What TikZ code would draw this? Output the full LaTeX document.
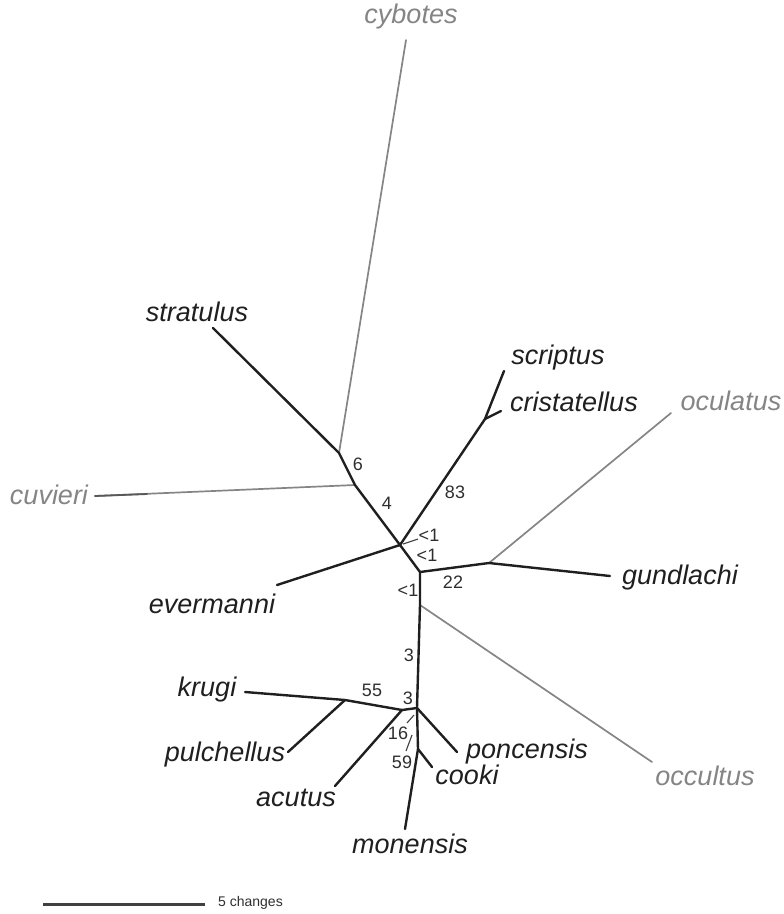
\documentclass[tikz,border=0pt]{standalone}
\usepackage{fontspec}
\setmainfont{Liberation Sans}
\begin{document}
\begin{tikzpicture}[x=1pt,y=-1pt,
 br/.style={draw=black!88, line width=2.4pt, line cap=round, line join=round},
 gbr/.style={draw=black!48, line width=1.7pt, line cap=round},
 taxon/.style={inner sep=0pt, font=\fontsize{27}{30}\selectfont\itshape, text=black!88},
 gtaxon/.style={taxon, text=black!48},
 num/.style={inner sep=0pt, font=\fontsize{18}{20}\selectfont, text=black!82},
 leader/.style={draw=black!75, line width=1.1pt},
 scalelab/.style={inner sep=0pt, font=\fontsize{14}{16}\selectfont, text=black!82}]
\useasboundingbox (0,0) rectangle (784,914);
% internal nodes
\coordinate (n1) at (339,453);
\coordinate (n2) at (355,485);
\coordinate (n3) at (400,545);
\coordinate (n4) at (420,572);
\coordinate (n5) at (420,605);
\coordinate (n6) at (417,708);
\coordinate (n7) at (402,710);
\coordinate (n8) at (418,749);
\coordinate (n9) at (345,700);
\coordinate (n10) at (485,419);
\coordinate (n11) at (489,563);
% tips
\coordinate (tstrat) at (213,328);
\coordinate (tcyb) at (406,40);
\coordinate (tcuv) at (95,496);
\coordinate (tcuvm) at (147,494);
\coordinate (tever) at (277,585);
\coordinate (tscr) at (504,371);
\coordinate (tcris) at (501,411);
\coordinate (tgund) at (610,576);
\coordinate (tocul) at (671,413);
\coordinate (tocc) at (652,762);
\coordinate (tkrug) at (245,692);
\coordinate (tpulc) at (288,752);
\coordinate (tacut) at (335,786);
\coordinate (tponc) at (457,752);
\coordinate (tcook) at (432,767);
\coordinate (tmon) at (405,829);
% gray branches
\draw[gbr] (n1) -- (tcyb);
\draw[gbr] (n2) -- (tcuv);
\draw[br, line width=1.8pt, draw=black!65] (tcuv) -- (tcuvm);
\draw[gbr] (n11) -- (tocul);
\draw[gbr] (n5) -- (tocc);
% black branches
\draw[br] (tstrat) -- (n1) -- (n2) -- (n3);
\draw[br] (n3) -- (tever);
\draw[br] (n3) -- (n10) -- (tscr);
\draw[br] (n10) -- (tcris);
\draw[br] (n3) -- (n4) -- (n11) -- (tgund);
\draw[br] (n4) -- (n5) -- (n6);
\draw[br] (n6) -- (n7) -- (n9) -- (tkrug);
\draw[br] (n9) -- (tpulc);
\draw[br] (n7) -- (tacut);
\draw[br] (n6) -- (tponc);
\draw[br] (n6) -- (n8) -- (tmon);
\draw[br] (n8) -- (tcook);
% taxon labels
\node[gtaxon] (lcyb) at (411,17) {cybotes};
\node[taxon] (lstrat) at (197,312) {stratulus};
\node[taxon] (lscr) at (558,358) {scriptus};
\node[taxon] (lcris) at (574,402) {cristatellus};
\node[gtaxon] (locul) at (731,401) {oculatus};
\node[gtaxon] (lcuv) at (49,495) {cuvieri};
\node[taxon] (lever) at (212,604) {evermanni};
\node[taxon] (lgund) at (680,578) {gundlachi};
\node[taxon] (lkrug) at (207,690) {krugi};
\node[taxon] (lpulc) at (225,755) {pulchellus};
\node[taxon] (lacut) at (296,798) {acutus};
\node[taxon] (lponc) at (527,752) {poncensis};
\node[taxon] (lcook) at (467,775) {cooki};
\node[gtaxon] (locc) at (705,776) {occultus};
\node[taxon] (lmon) at (410,844) {monensis};
% support values
\node[num] (s6) at (358,464) {6};
\node[num] (s4) at (387,503) {4};
\node[num] (s83) at (455,492) {83};
\node[num] (sa) at (429,535) {<1};
\node[num] (sb) at (427,555) {<1};
\node[num] (s22) at (453,582) {22};
\node[num] (sc) at (408,590) {<1};
\node[num] (s3a) at (409,655) {3};
\node[num] (s3b) at (408,698) {3};
\node[num] (s55) at (372,690) {55};
\node[num] (s16) at (398,733) {16};
\node[num] (s59) at (402,762) {59};
% leader ticks
\coordinate (la1) at (403,544);
\coordinate (la2) at (418,539);
\draw[leader] (la1) -- (la2);
\coordinate (lb1) at (407,723);
\coordinate (lb2) at (414,715);
\draw[leader] (lb1) -- (lb2);
\coordinate (lc1) at (406,751);
\coordinate (lc2) at (412,735);
\draw[leader] (lc1) -- (lc2);
% scale bar
\coordinate (sb1) at (43,904);
\coordinate (sb2) at (205,904);
\draw[br, line width=3pt, line cap=butt, draw=black!75] (sb1) -- (sb2);
\node[scalelab, anchor=west] (slab) at (218,903) {5 changes};
\end{tikzpicture}
\end{document}
